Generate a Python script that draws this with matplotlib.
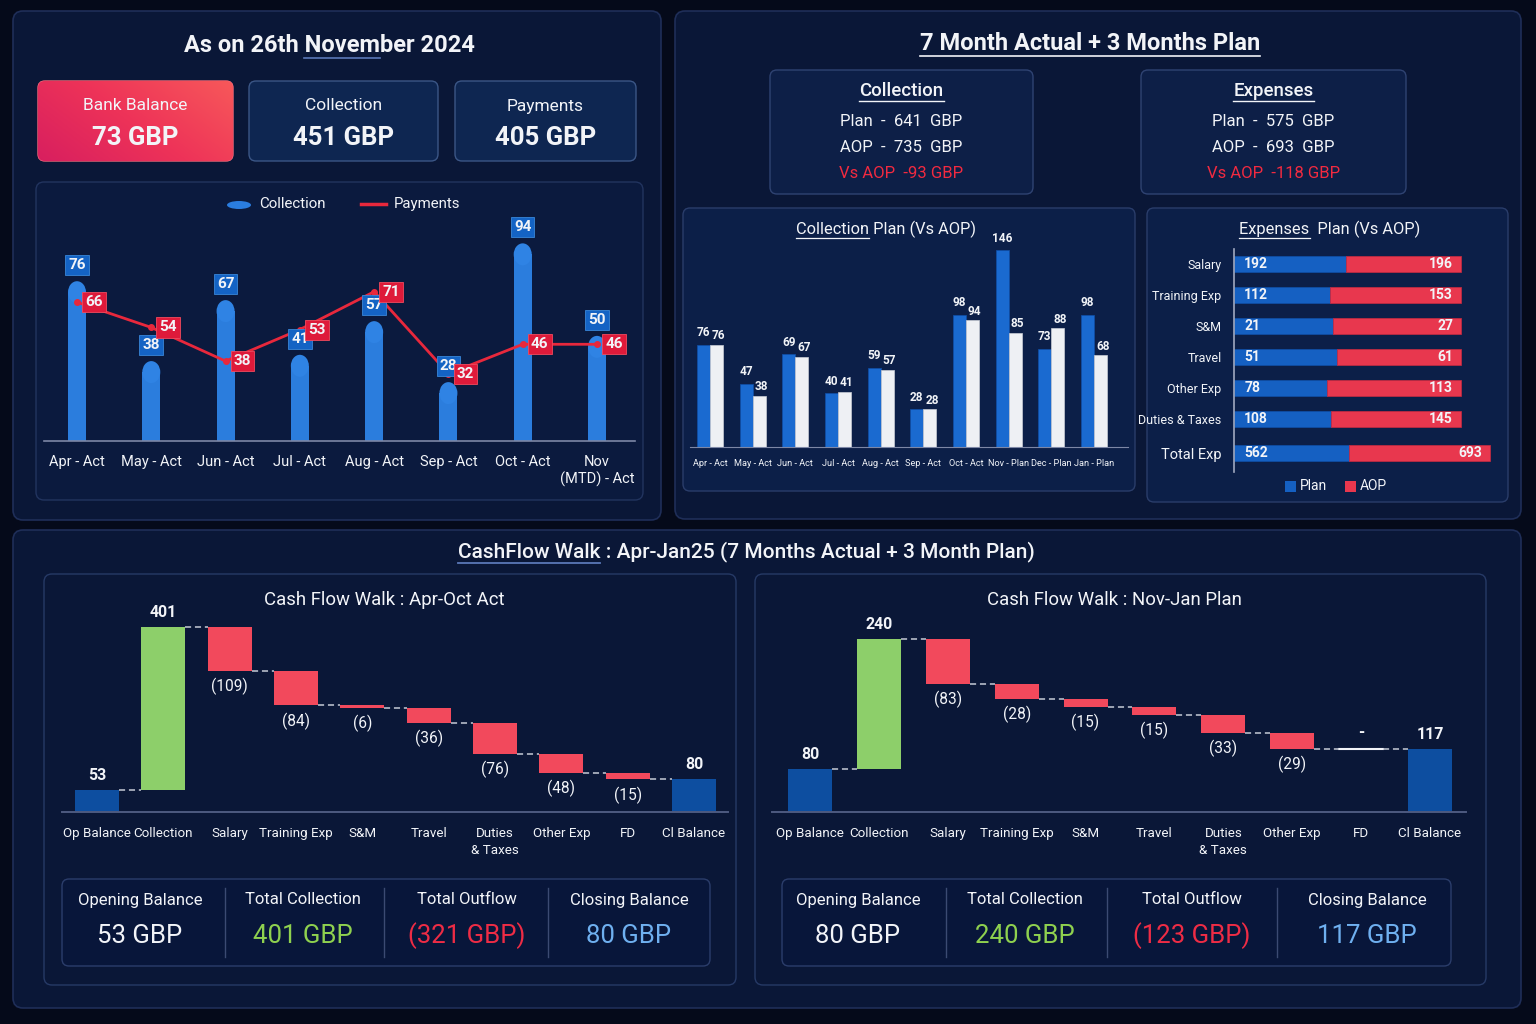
import numpy as np
import matplotlib
matplotlib.use('Agg')
import matplotlib.pyplot as plt
from matplotlib.patches import FancyBboxPatch, Rectangle, Ellipse
from matplotlib.colors import LinearSegmentedColormap

plt.rcParams['font.family'] = ['Roboto', 'DejaVu Sans']

# ---------------- DATA ----------------
kpi_labels = ['Bank Balance', 'Collection', 'Payments']
kpi_values = ['73 GBP', '451 GBP', '405 GBP']

months_act = ['Apr - Act', 'May - Act', 'Jun - Act', 'Jul - Act', 'Aug - Act',
              'Sep - Act', 'Oct - Act', 'Nov\n(MTD) - Act']
collection_act = [76, 38, 67, 41, 57, 28, 94, 50]
payments_act = [66, 54, 38, 53, 71, 32, 46, 46]

coll_card = ['Collection', 'Plan  -  641  GBP', 'AOP  -  735  GBP', 'Vs AOP  -93 GBP']
exp_card = ['Expenses', 'Plan  -  575  GBP', 'AOP  -  693  GBP', 'Vs AOP  -118 GBP']

plan_months = ['Apr - Act', 'May - Act', 'Jun - Act', 'Jul - Act', 'Aug - Act',
               'Sep - Act', 'Oct - Act', 'Nov - Plan', 'Dec - Plan', 'Jan - Plan']
collection_plan = [76, 47, 69, 40, 59, 28, 98, 146, 73, 98]
collection_aop = [76, 38, 67, 41, 57, 28, 94, 85, 88, 68]

exp_categories = ['Salary', 'Training Exp', 'S&M', 'Travel', 'Other Exp',
                  'Duties & Taxes', 'Total Exp']
exp_plan = [192, 112, 21, 51, 78, 108, 562]
exp_aop = [196, 153, 27, 61, 113, 145, 693]

walk_labels = ['Op Balance', 'Collection', 'Salary', 'Training Exp', 'S&M', 'Travel',
               'Duties\n& Taxes', 'Other Exp', 'FD', 'Cl Balance']
walk_act = [53, 401, -109, -84, -6, -36, -76, -48, -15]
walk_plan = [80, 240, -83, -28, -15, -15, -33, -29, 0]

summary_labels = ['Opening Balance', 'Total Collection', 'Total Outflow', 'Closing Balance']
summary_act = ['53 GBP', '401 GBP', '(321 GBP)', '80 GBP']
summary_plan = ['80 GBP', '240 GBP', '(123 GBP)', '117 GBP']

# ---------------- STYLE ----------------
W, H = 1536, 1024
BG = '#050a1a'
PANEL = '#0a1737'
PANEL_EC = '#1f2e58'
SUB = '#0b1a3e'
SUB_EC = '#22345f'
WHITE = '#f2f4f8'
AXIS = '#7d87a6'

fig = plt.figure(figsize=(W / 100, H / 100), dpi=100)
fig.patch.set_facecolor(BG)
bg = fig.add_axes([0, 0, 1, 1])
bg.set_xlim(0, W)
bg.set_ylim(H, 0)
bg.set_autoscale_on(False)
bg.axis('off')
bg.set_zorder(0)
renderer = fig.canvas.get_renderer()


def px_axes(x0, y0, x1, y1):
    ax = fig.add_axes([x0 / W, 1 - y1 / H, (x1 - x0) / W, (y1 - y0) / H])
    ax.set_facecolor('none')
    ax.set_zorder(2)
    return ax


def panel(x0, y0, x1, y1, fc, ec, r=8, lw=1.2, z=1):
    p = FancyBboxPatch((x0 + r, y0 + r), (x1 - x0 - 2 * r), (y1 - y0 - 2 * r),
                       boxstyle=f'round,pad={r}', fc=fc, ec=ec, lw=lw, zorder=z)
    bg.add_patch(p)
    return p


def text_width(s, **kw):
    tmp = bg.text(0, 0, s, **kw)
    w = tmp.get_window_extent(renderer).width
    tmp.remove()
    return w


def utext(x, y, s, start='', under=None, ucolor=WHITE, ulw=1.0, **kw):
    t = bg.text(x, y, s, ha='center', va='center', zorder=5, **kw)
    bb = t.get_window_extent(renderer)
    if under is None:
        under = s
    x0 = bb.x0 + (text_width(start, **kw) if start else 0)
    w = text_width(under, **kw)
    ybot = H - bb.y0 + 0.5
    bg.plot([x0, x0 + w], [ybot, ybot], color=ucolor, lw=ulw, zorder=5)
    return t


# ---------------- PANELS ----------------
panel(13, 11, 661, 520, PANEL, PANEL_EC, r=10)
panel(675, 11, 1521, 519, PANEL, PANEL_EC, r=10)
panel(13, 530, 1521, 1008, PANEL, PANEL_EC, r=10)

# ---------------- TOP LEFT ----------------
utext(329, 46, 'As on 26th November 2024', start='As on 26th ', under='Novem',
      ucolor='#5a78b8', ulw=1.2, fontsize=17, fontweight='bold', color=WHITE)

cards = [(38, 233), (249, 438), (455, 636)]
grad_cmap = LinearSegmentedColormap.from_list('g', ['#d81f5f', '#ee3358', '#f7585a'])
for i, (cx0, cx1) in enumerate(cards):
    if i == 0:
        p = panel(cx0, 81, cx1, 161, '#e8305a', '#f06a7a', r=7, lw=1.0, z=3)
        xx, yy = np.meshgrid(np.linspace(0, 1, 200), np.linspace(0, 1, 80))
        g = 0.65 * xx + 0.35 * (1 - yy)
        im = bg.imshow(g, cmap=grad_cmap, extent=[cx0, cx1, 161, 81], aspect='auto',
                       zorder=3.5, origin='upper')
        im.set_clip_path(p)
    else:
        panel(cx0, 81, cx1, 161, '#0e2651', '#3b5686', r=7, lw=1.0, z=3)
    cx = (cx0 + cx1) / 2
    bg.text(cx, 106, kpi_labels[i], ha='center', va='center', fontsize=12.5,
            color=WHITE, zorder=6)
    bg.text(cx, 138, kpi_values[i], ha='center', va='center', fontsize=18.5,
            fontweight='bold', color=WHITE, zorder=6)

# chart sub-panel
panel(36, 182, 643, 500, SUB, SUB_EC, r=8, lw=1.0, z=2)
bg.add_patch(Ellipse((239, 205), 24, 8, fc='#2a7de0', ec='none', zorder=5))
bg.text(259, 204, 'Collection', ha='left', va='center', fontsize=10.8, color=WHITE, zorder=5)
bg.plot([361, 386], [204, 204], color='#e8283c', lw=2.5, zorder=5)
bg.text(394, 204, 'Payments', ha='left', va='center', fontsize=10.8, color=WHITE, zorder=5)

ax1 = px_axes(44, 195, 635, 441)
n1 = len(months_act)
sp1 = (597 - 77) / (n1 - 1)
ax1.set_xlim(-(77 - 44) / sp1, n1 - 1 + (635 - 597) / sp1)
ax1.set_ylim(0, 117)
ppu1 = (441 - 195) / 117.0
x1 = np.arange(n1)
bw1 = 18 / sp1
r1 = 11 / ppu1
for xi, v in zip(x1, collection_act):
    ax1.add_patch(Rectangle((xi - bw1 / 2, 0), bw1, v - r1, fc='#2b7ddd', ec='none', zorder=2))
    ax1.add_patch(Ellipse((xi, v - r1), bw1, 2 * r1, fc='#2f83e4', ec='none', zorder=2))
    ax1.text(xi, v + 16 / ppu1, str(v), ha='center', va='center', fontsize=11,
             fontweight='bold', color=WHITE, zorder=6,
             bbox=dict(boxstyle='square,pad=0.2', fc='#1463c4', ec='#3a86d8', lw=0.6))
ax1.plot(x1, payments_act, color='#e8283c', lw=2, marker='o', ms=4, zorder=4)
for xi, v in zip(x1, payments_act):
    ax1.text(xi + 17 / sp1, v, str(v), ha='center', va='center', fontsize=11,
             fontweight='bold', color=WHITE, zorder=6,
             bbox=dict(boxstyle='square,pad=0.2', fc='#de1a3a', ec='#f04a5e', lw=0.6))
ax1.set_xticks(x1)
ax1.set_xticklabels(months_act, fontsize=10.5, color=WHITE)
ax1.tick_params(axis='x', length=0, pad=10)
ax1.set_yticks([])
for s in ['top', 'right', 'left']:
    ax1.spines[s].set_visible(False)
ax1.spines['bottom'].set_color(AXIS)
ax1.spines['bottom'].set_linewidth(1.2)

# ---------------- TOP RIGHT ----------------
utext(1090, 44, '7 Month Actual + 3 Months Plan', fontsize=17, fontweight='bold',
      color=WHITE, ulw=1.2)

for (bx0, bx1), card in zip([(770, 1033), (1141, 1406)], [coll_card, exp_card]):
    panel(bx0, 70, bx1, 194, '#0d1f47', '#2f4372', r=7, lw=1.0, z=2)
    cx = (bx0 + bx1) / 2
    utext(cx, 91, card[0], fontsize=13.4, fontweight='medium', color=WHITE, ulw=1.0)
    bg.text(cx, 122, card[1], ha='center', va='center', fontsize=12, color=WHITE, zorder=5)
    bg.text(cx, 147, card[2], ha='center', va='center', fontsize=12, color=WHITE, zorder=5)
    bg.text(cx, 173, card[3], ha='center', va='center', fontsize=12, color='#f22a40', zorder=5)

# Collection plan chart
panel(683, 208, 1135, 491, '#0c1f48', '#2a3d6a', r=7, lw=1.0, z=2)
utext(886, 229, 'Collection Plan (Vs AOP)', under='Collection', fontsize=11.8,
      color=WHITE, ulw=0.9)
ax2 = px_axes(690, 245, 1128, 447)
n2 = len(plan_months)
sp2 = (1094 - 710) / (n2 - 1)
ax2.set_xlim(-(710 - 690) / sp2, n2 - 1 + (1128 - 1094) / sp2)
ax2.set_ylim(0, 150)
x2 = np.arange(n2)
bw2 = 13 / sp2
ax2.bar(x2 - bw2 / 2, collection_plan, bw2, color='#1a6ad0', edgecolor='#0f4fa8', lw=0.5, zorder=2)
ax2.bar(x2 + bw2 / 2, collection_aop, bw2, color='#eef0f4', edgecolor='#c9cdd6', lw=0.5, zorder=2)
for xi, a, b in zip(x2, collection_plan, collection_aop):
    ax2.annotate(str(a), (xi - bw2 / 2, a), xytext=(0, 4), textcoords='offset points',
                 ha='center', va='bottom', fontsize=8.5, fontweight='bold', color=WHITE, zorder=6)
    ax2.annotate(str(b), (xi + bw2 / 2 + 0.05, b), xytext=(0, 2), textcoords='offset points',
                 ha='center', va='bottom', fontsize=8.5, fontweight='bold', color=WHITE, zorder=6)
ax2.set_xticks(x2)
ax2.set_xticklabels(plan_months, fontsize=6.6, color=WHITE)
ax2.tick_params(axis='x', length=0, pad=9)
ax2.set_yticks([])
for s in ['top', 'right', 'left']:
    ax2.spines[s].set_visible(False)
ax2.spines['bottom'].set_color(AXIS)

# Expenses plan chart
panel(1147, 208, 1508, 502, '#0c1f48', '#2a3d6a', r=7, lw=1.0, z=2)
utext(1330, 229, 'Expenses  Plan (Vs AOP)', under='Expenses', fontsize=11.8,
      color=WHITE, ulw=0.9)
ax3 = px_axes(1234, 249, 1500, 472)
ne = len(exp_categories)
ypos = np.arange(ne, dtype=float)
ypos[-1] += 0.1
ax3.set_ylim(6.1 + 19 / 31, -15 / 31)
ax3.set_xlim(0, (1500 - 1234) / 227)
plan_arr = np.array(exp_plan, float)
aop_arr = np.array(exp_aop, float)
scale = np.ones(ne)
scale[-1] = 256 / 227  # emphasised total row
frac_p = plan_arr / (plan_arr + aop_arr) * scale
frac_a = aop_arr / (plan_arr + aop_arr) * scale
bh = 16 / 31
ax3.barh(ypos, frac_p, bh, color='#1560c2', edgecolor='#0f4fa8', lw=0.5, zorder=2)
ax3.barh(ypos, frac_a, bh, left=frac_p, color='#e8374e', edgecolor='#c92a40', lw=0.5, zorder=2)
for yi, fp, fa, p_, a_ in zip(ypos, frac_p, frac_a, exp_plan, exp_aop):
    ax3.text(0.045, yi, str(p_), ha='left', va='center', fontsize=10, fontweight='bold',
             color=WHITE, zorder=6)
    ax3.text(fp + fa - 0.035, yi, str(a_), ha='right', va='center', fontsize=10,
             fontweight='bold', color=WHITE, zorder=6)
ax3.set_yticks(ypos)
ax3.set_yticklabels(exp_categories, fontsize=9, color=WHITE)
ax3.get_yticklabels()[-1].set_fontsize(10.5)
ax3.tick_params(axis='y', length=0, pad=9)
ax3.set_xticks([])
for s in ['top', 'right', 'bottom']:
    ax3.spines[s].set_visible(False)
ax3.spines['left'].set_color('#a0a8c0')
ax3.spines['left'].set_linewidth(1.2)
bg.add_patch(Rectangle((1285, 481), 11, 11, fc='#1560c2', ec='none', zorder=5))
bg.text(1300, 486, 'Plan', ha='left', va='center', fontsize=10, color=WHITE, zorder=5)
bg.add_patch(Rectangle((1345, 481), 11, 11, fc='#e8374e', ec='none', zorder=5))
bg.text(1360, 486, 'AOP', ha='left', va='center', fontsize=10, color=WHITE, zorder=5)

# ---------------- BOTTOM ----------------
utext(746, 552, 'CashFlow Walk : Apr-Jan25 (7 Months Actual + 3 Month Plan)',
      under='CashFlow Walk', fontsize=15, fontweight='medium', color=WHITE,
      ucolor='#5a78b8', ulw=1.3)


def draw_walk(ax, vals, labels, sp):
    n = len(labels)
    x = np.arange(n)
    bw = 44 / sp
    level = 0.0
    tops = []
    for i, v in enumerate(vals):
        if i == 0:
            bottom, h, col = 0, v, '#0d4ea0'
        elif i == 1:
            bottom, h, col = level, v, '#8dcf6a'
        else:
            bottom, h, col = level + v, -v, '#f2495c'
        if h > 0:
            ax.bar(x[i], h, bw, bottom=bottom, color=col, edgecolor='none', zorder=2)
        else:
            ax.plot([x[i] - bw / 2, x[i] + bw / 2], [level, level], color=WHITE, lw=1.5, zorder=3)
        newlevel = level + v
        if i <= 1:
            ax.annotate(str(v), (x[i], newlevel), xytext=(0, 5), textcoords='offset points',
                        ha='center', va='bottom', fontsize=11.4, fontweight='bold',
                        color=WHITE, zorder=6)
        elif v == 0:
            ax.annotate('-', (x[i], newlevel), xytext=(0, 6), textcoords='offset points',
                        ha='center', va='bottom', fontsize=11.4, fontweight='bold',
                        color=WHITE, zorder=6)
        else:
            ax.annotate(f'({-v})', (x[i], newlevel), xytext=(0, -5), textcoords='offset points',
                        ha='center', va='top', fontsize=11.2, color=WHITE, zorder=6)
        level = newlevel
        tops.append(level)
    closing = level
    ax.bar(x[-1], closing, bw, color='#0d4ea0', edgecolor='none', zorder=2)
    ax.annotate(str(int(closing)), (x[-1], closing), xytext=(0, 5), textcoords='offset points',
                ha='center', va='bottom', fontsize=11.4, fontweight='bold', color=WHITE, zorder=6)
    for i in range(n - 1):
        lv = tops[i]
        ax.plot([x[i] + bw / 2, x[i + 1] - bw / 2], [lv, lv], color='#c5cad6', lw=1.1,
                ls=(0, (4, 2.5)), zorder=3)
    ax.set_xticks(x)
    ax.set_xticklabels(labels, fontsize=9.6, color=WHITE, linespacing=1.35)
    ax.tick_params(axis='x', length=0, pad=11)
    ax.set_yticks([])
    for s in ['top', 'right', 'left']:
        ax.spines[s].set_visible(False)
    ax.spines['bottom'].set_color('#4d5a80')
    ax.spines['bottom'].set_linewidth(1.4)


def draw_summary(bx0, bx1, seps, centers, vals):
    panel(bx0, 879, bx1, 966, '#08163a', '#2b3d6b', r=7, lw=1.0, z=2)
    for sx in seps:
        bg.plot([sx, sx], [888, 957], color='#3b4a72', lw=1.0, zorder=4)
    cols = [WHITE, '#8fd14f', '#ee2c45', '#6fb0f0']
    for cx, lab, val, c in zip(centers, summary_labels, vals, cols):
        bg.text(cx, 900, lab, ha='center', va='center', fontsize=12, color=WHITE, zorder=5)
        bg.text(cx, 936, val, ha='center', va='center', fontsize=18.5, color=c, zorder=5)


walk_sets = [
    (walk_act, summary_act, (44, 574, 736, 985), 'Cash Flow Walk : Apr-Oct Act',
     (62, 612, 728, 812), (97, 694), 490, (62, 710), (225, 384, 548), (140, 303, 467, 629)),
    (walk_plan, summary_plan, (755, 574, 1486, 985), 'Cash Flow Walk : Nov-Jan Plan',
     (772, 612, 1466, 812), (810, 1430), 370, (782, 1451), (946, 1107, 1277),
     (858, 1025, 1192, 1367)),
]
for vals, summ, pbox, title, abox, cxr, ymax, sbox, seps, cents in walk_sets:
    panel(*pbox, PANEL, '#263a66', r=8, lw=1.0, z=1.5)
    bg.text((pbox[0] + pbox[2]) / 2 - 6, 600, title, ha='center', va='center',
            fontsize=13.4, color=WHITE, zorder=5)
    ax = px_axes(*abox)
    nl = len(walk_labels)
    spw = (cxr[1] - cxr[0]) / (nl - 1)
    ax.set_xlim(-(cxr[0] - abox[0]) / spw, nl - 1 + (abox[2] - cxr[1]) / spw)
    ax.set_ylim(0, ymax)
    draw_walk(ax, vals, walk_labels, spw)
    draw_summary(sbox[0], sbox[1], seps, cents, summ)

bg.set_xlim(0, W)
bg.set_ylim(H, 0)
fig.savefig('out.png', dpi=100, facecolor=fig.get_facecolor())
